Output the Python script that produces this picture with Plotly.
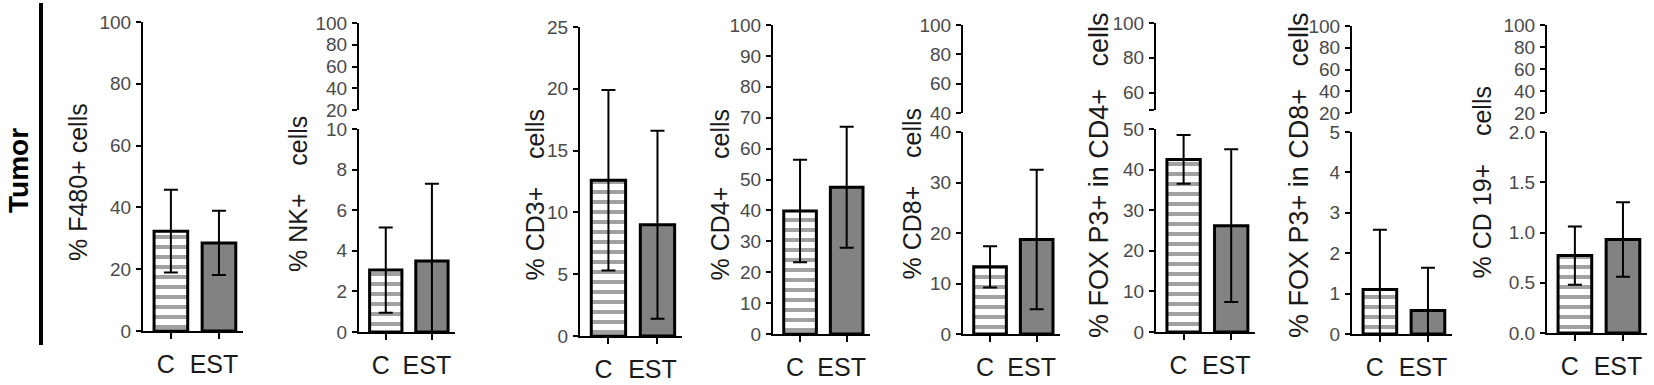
import plotly.graph_objects as go

# ---------------- data ----------------
categories = ["C", "EST"]

f480_mean = [32.3, 28.5]
f480_err = [13.4, 10.4]
nk_mean = [3.05, 3.5]
nk_err = [2.1, 3.8]
cd3_mean = [12.6, 9.0]
cd3_err = [7.3, 7.6]
cd4_mean = [39.8, 47.5]
cd4_err = [16.6, 19.6]
cd8_mean = [13.3, 18.7]
cd8_err = [4.1, 13.8]
foxcd4_mean = [42.5, 26.2]
foxcd4_err = [6.0, 18.8]
foxcd8_mean = [1.1, 0.58]
foxcd8_err = [1.48, 1.06]
cd19_mean = [0.77, 0.93]
cd19_err = [0.29, 0.37]

titles = ["% F480+ cells", "% NK+    cells", "% CD3+    cells", "% CD4+    cells",
          "% CD8+    cells", "% FOX P3+ in CD4+   cells", "% FOX P3+ in CD8+   cells",
          "% CD 19+    cells"]
row_label = "Tumor"

means = [f480_mean, nk_mean, cd3_mean, cd4_mean, cd8_mean, foxcd4_mean, foxcd8_mean, cd19_mean]
errs = [f480_err, nk_err, cd3_err, cd4_err, cd8_err, foxcd4_err, foxcd8_err, cd19_err]

# lower axis (range max, dtick, tickformat); upper (broken) axis (min, max, tickvals, ticktext)
lower_axes = [(100, 20, None), (10, 2, None), (25, 5, None), (100, 10, None),
              (40, 10, None), (50, 10, None), (5, 1, None), (2.0, 0.5, ".1f")]
upper_axes = [None,
              (20, 100, [20, 40, 60, 80, 100], ["20", "40", "60", "80", "100"]),
              None, None,
              (40, 100, [40, 60, 80, 100], ["40", "60", "80", "100"]),
              (50, 100, [50, 60, 80, 100], ["", "60", "80", "100"]),
              (20, 100, [20, 40, 60, 80, 100], ["20", "40", "60", "80", "100"]),
              (20, 100, [20, 40, 60, 80, 100], ["20", "40", "60", "80", "100"])]

# ---------------- geometry (pixels) ----------------
W, H = 1654, 385
# x0, x1, y of zero, y of lower top, y of upper bottom, y of upper top
geo = [(143, 243, 331, 22, None, None),
       (359, 455, 332, 129, 110, 23),
       (580, 682, 336, 27, None, None),
       (773, 870, 334, 25, None, None),
       (963, 1060, 334, 132, 113, 25),
       (1156, 1255, 332, 129, 110, 23),
       (1352, 1452, 334, 132, 113, 26),
       (1547, 1647, 333, 132, 113, 25)]
title_pos = [(78, 182), (298, 194), (534, 194.5), (719, 194.5), (911, 193.5),
             (1099, 175), (1299, 175), (1481, 182.5)]
title_size = [25, 25, 25, 25, 25, 27, 27, 25]

FONT = "Liberation Sans, Arial, sans-serif"
TICK_FONT = "Liberation Sans Narrow, Arial Narrow, Liberation Sans, sans-serif"
TICK_COLOR = "#4a4a4a"
GRAY = "#828282"

fig = go.Figure()
layout = {}
annotations = []
upper_idx = 9

for i in range(8):
    n = i + 1
    x0, x1, yz, yt, ub, ut = geo[i]
    fig.add_trace(go.Bar(
        x=categories, y=means[i], xaxis=f"x{n}", yaxis=f"y{n}",
        width=0.7, showlegend=False,
        marker=dict(color=["white", GRAY],
                    line=dict(color="black", width=3),
                    pattern=dict(shape=["-", ""], fgcolor="black", bgcolor="white",
                                 size=10, solidity=0.4)),
        error_y=dict(type="data", array=errs[i], symmetric=True,
                     color="black", thickness=2, width=7),
    ))
    layout[f"xaxis{n}"] = dict(
        domain=[x0 / W, x1 / W], anchor=f"y{n}", range=[-0.58, 1.5],
        showline=True, linecolor="black", linewidth=2, ticks="outside",
        ticklen=6, tickwidth=2, tickcolor="black", showgrid=False, zeroline=False,
        tickfont=dict(family=FONT, size=25, color="#1a1a1a"), ticklabelstandoff=4,
        ticklabelshift=-5, fixedrange=True, automargin=False,
    )
    top, dt, fmt = lower_axes[i]
    ya = dict(
        domain=[1 - yz / H, 1 - yt / H], anchor=f"x{n}", range=[0, top], dtick=dt,
        tick0=0, showline=True, linecolor="black", linewidth=2, ticks="outside",
        ticklen=5, tickwidth=2, tickcolor="black", showgrid=False, zeroline=False,
        tickfont=dict(family=TICK_FONT, size=19, color=TICK_COLOR), fixedrange=True,
        ticklabelstandoff=1, automargin=False,
    )
    if fmt:
        ya["tickformat"] = fmt
    layout[f"yaxis{n}"] = ya
    if upper_axes[i] is not None:
        lo, hi, tv, tt = upper_axes[i]
        m = upper_idx
        upper_idx += 1
        layout[f"yaxis{m}"] = dict(
            domain=[1 - ub / H, 1 - ut / H], anchor=f"x{n}", range=[lo, hi],
            tickmode="array", tickvals=tv, ticktext=tt,
            showline=True, linecolor="black", linewidth=2, ticks="outside",
            ticklen=5, tickwidth=2, tickcolor="black", showgrid=False, zeroline=False,
            tickfont=dict(family=TICK_FONT, size=19, color=TICK_COLOR), fixedrange=True,
            ticklabelstandoff=1, automargin=False,
        )
        fig.add_trace(go.Scatter(x=categories, y=[None, None], xaxis=f"x{n}",
                                 yaxis=f"y{m}", mode="markers", showlegend=False,
                                 hoverinfo="skip"))
    tx, ty = title_pos[i]
    annotations.append(dict(
        text=titles[i].replace(" ", "\u00a0"), textangle=-90,
        x=tx / W, y=1 - ty / H, xref="paper", yref="paper",
        xanchor="center", yanchor="middle", showarrow=False,
        font=dict(family=FONT, size=title_size[i], color="#1a1a1a"),
    ))

annotations.append(dict(
    text=f"<b>{row_label}</b>", textangle=-90, x=18 / W, y=1 - 171 / H,
    xref="paper", yref="paper", xanchor="center", yanchor="middle",
    showarrow=False, font=dict(family=FONT, size=28, color="black"),
))

fig.update_layout(
    width=W, height=H, margin=dict(l=0, r=0, t=0, b=0, pad=0, autoexpand=False),
    autosize=False,
    paper_bgcolor="white", plot_bgcolor="rgba(0,0,0,0)",
    annotations=annotations, bargap=0.3,
    shapes=[dict(type="line", xref="paper", yref="paper",
                 x0=41 / W, x1=41 / W, y0=1 - 345 / H, y1=1 - 3 / H,
                 line=dict(color="black", width=4))],
    **layout,
)

post = (
    "var gd=document.getElementById('{plot_id}');"
    "gd.style.position='absolute';gd.style.top='0px';gd.style.left='0px';"
    "document.body.style.margin='0px';document.body.style.overflow='hidden';"
    "document.documentElement.style.overflow='hidden';"
)
fig.write_html("out.html", config={"displayModeBar": False, "responsive": False},
               post_script=post)
